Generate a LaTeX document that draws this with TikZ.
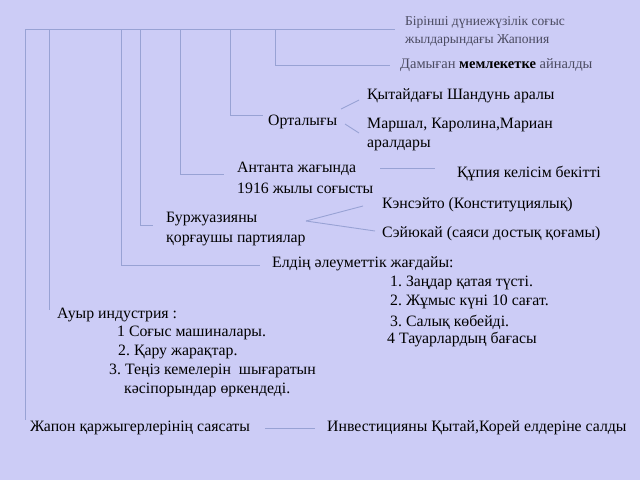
\documentclass[tikz,border=0pt]{standalone}
\usepackage{fontspec}
\setmainfont{Liberation Serif}
\begin{document}
\frenchspacing
\begin{tikzpicture}[x=1pt,y=-1pt,
  every node/.style={anchor=west,inner sep=0pt,font=\fontsize{15.8}{18}\selectfont,text=black},
  ln/.style={draw=lineblue,line width=0.9pt},
  gray/.style={text=graytext,font=\fontsize{13.5}{16}\selectfont}]
\definecolor{bg}{HTML}{CCCCF6}
\definecolor{lineblue}{HTML}{98A2D4}
\definecolor{graytext}{HTML}{4A4A60}
\fill[bg] (0,0) rectangle (640,480);
\useasboundingbox (0,0) rectangle (640,480);
% texts
\node[gray] (t1) at (405,22) {Бірінші дүниежүзілік соғыс};
\node[gray] (t2) at (405,41) {жылдарындағы Жапония};
\node[gray,font=\fontsize{14.5}{16}\selectfont] (d) at (400,65) {Дамыған \textbf{\textcolor{black}{мемлекетке}} айналды};
\node (o) at (268,122) {Орталығы};
\node (q) at (367,96) {Қытайдағы Шандунь аралы};
\node (m) at (367,125) {Маршал, Каролина,Мариан};
\node (m2) at (367,145) {аралдары};
\node (a) at (237,169) {Антанта жағында};
\node (a2) at (237,188) {1916 жылы соғысты};
\node (k) at (457,174) {Құпия келісім бекітті};
\node (b) at (166,219) {Буржуазияны};
\node (b2) at (166,240) {қорғаушы партиялар};
\node (ke) at (382,205) {Кэнсэйто (Конституциялық)};
\node (s) at (382,234) {Сэйюкай (саяси достық қоғамы)};
\node (e) at (272,264) {Елдің әлеуметтік жағдайы:};
\node (e1) at (390,283) {1. Заңдар қатая түсті.};
\node (e2) at (390,302) {2. Жұмыс күні 10 сағат.};
\node (e3) at (390,322) {3. Салық көбейді.};
\node (e4) at (387,340) {4 Тауарлардың бағасы};
\node (au) at (57,315) {Ауыр индустрия :};
\node (au1) at (117,333) {1 Соғыс машиналары.};
\node (au2) at (118,352) {2. Қару жарақтар.};
\node (au3) at (109,371) {3. Теңіз кемелерін\ \ шығаратын};
\node (au4) at (124,390) {кәсіпорындар өркендеді.};
\node (j) at (30,428) {Жапон қаржыгерлерінің саясаты};
\node (i) at (327,428) {Инвестицияны Қытай,Корей елдеріне салды};
% tree lines
\draw[ln] (25,29) -- (395,29);
\draw[ln] (275,29) |- (390,65);
\draw[ln] (230,29) |- (263,115);
\draw[ln] (180,29) |- (224,174);
\draw[ln] (140,29) |- (153,225);
\draw[ln] (121,29) |- (260,265);
\draw[ln] (49,29) -- (49,310);
\draw[ln] (25,29) -- (25,420);
\draw[ln] (341,109) -- (359,100);
\draw[ln] (345,124) -- (359,133);
\draw[ln] (380,168) -- (435,168);
\draw[ln] (306,221) -- (363,206);
\draw[ln] (306,221) -- (375,231);
\draw[ln] (265,428) -- (315,428);
\end{tikzpicture}
\end{document}
